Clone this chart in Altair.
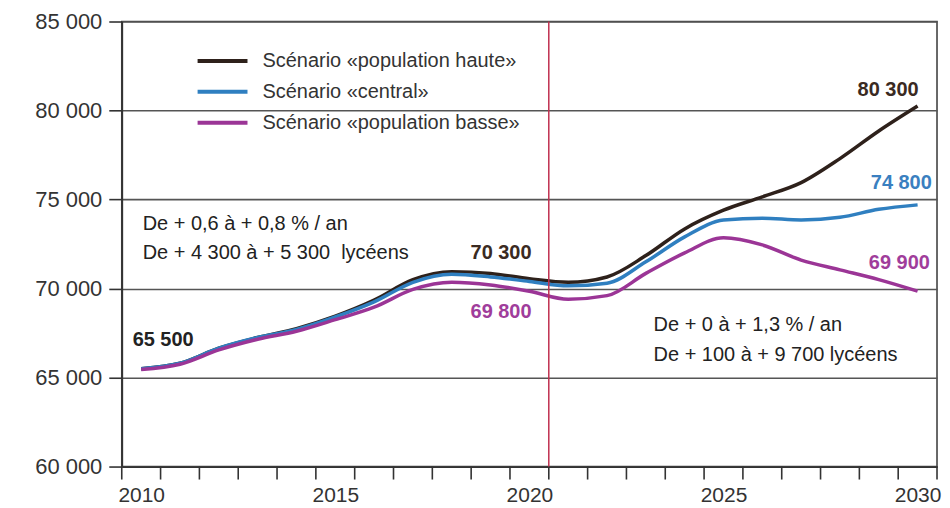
import altair as alt
import pandas as pd

years = list(range(2010, 2031))
haute = [65500, 65800, 66650, 67250, 67750, 68450, 69350, 70500, 70950, 70850, 70550,
         70350, 70650, 71850, 73350, 74400, 75150, 75950, 77300, 78850, 80250]
central = [65500, 65800, 66650, 67250, 67700, 68400, 69250, 70350, 70800, 70650, 70400,
           70150, 70300, 71500, 72900, 73850, 73950, 73850, 74000, 74450, 74700]
basse = [65450, 65750, 66550, 67150, 67600, 68250, 68950, 69950, 70350, 70200, 69850,
         69400, 69600, 70850, 72000, 72850, 72450, 71600, 71050, 70500, 69850]

series_names = ["Scénario «population haute»", "Scénario «central»", "Scénario «population basse»"]
series_colors = ["#2e211b", "#2f7fc0", "#9b3596"]

y_ticks = [60000, 65000, 70000, 75000, 80000, 85000]
x_label_years = [2010, 2015, 2020, 2025, 2030]
x_tick_positions = [2009.5 + i for i in range(22)]
cut_year = [2020.5]

# annotations (text, x in years, y in pupils, colour)
value_labels = ["65 500", "70 300", "69 800", "80 300", "74 800", "69 900"]
value_x = [2009.78, 2019.27, 2019.27, 2029.24, 2029.58, 2029.53]
value_y = [67120, 72000, 68690, 81130, 75920, 71430]
value_colors = ["#222222", "#3a2a22", "#a03d9b", "#3a2a22", "#3a7fc0", "#a03d9b"]
value_align = ["left", "center", "center", "center", "center", "center"]

note_texts = ["De + 0,6 à + 0,8 % / an", "De + 4 300 à + 5 300\u00a0 lycéens",
              "De + 0 à + 1,3 % / an", "De + 100 à + 9 700 lycéens"]
note_x = [2010.04, 2010.04, 2023.2, 2023.2]
note_y = [73620, 72000, 67960, 66280]

rows = []
for name, vals in zip(series_names, [haute, central, basse]):
    for yr, v in zip(years, vals):
        rows.append({"annee": yr, "lyceens": v, "scenario": name})
df = pd.DataFrame(rows)

x_scale = alt.Scale(domain=[2009.5, 2030.5], nice=False, zero=False)
y_scale = alt.Scale(domain=[60000, 85000], nice=False, zero=False)

FONT = "Liberation Sans"
H = 446

lines = alt.Chart(df).mark_line(strokeWidth=3.5, interpolate="monotone").encode(
    x=alt.X("annee:Q", scale=x_scale, title=None,
            axis=alt.Axis(values=x_label_years, grid=False, ticks=False, format="d",
                          labelFlush=False, labelOverlap=False, labelPadding=18,
                          labelFontSize=21)),
    y=alt.Y("lyceens:Q", scale=y_scale, title=None,
            axis=alt.Axis(values=y_ticks, grid=True, gridColor="#555555", gridWidth=1.6,
                          labelExpr="replace(format(datum.value, ','), ',', ' ')",
                          tickSize=13, labelPadding=7)),
    color=alt.Color("scenario:N", sort=series_names,
                    scale=alt.Scale(domain=series_names, range=series_colors),
                    legend=alt.Legend(title=None, orient="none", legendX=74, legendY=24,
                                      symbolType="stroke", symbolSize=2500, symbolStrokeWidth=4,
                                      labelFontSize=20, labelFont=FONT, labelColor="#333333",
                                      labelOffset=13, clipHeight=31, rowPadding=0, padding=0,
                                      labelLimit=400)),
)

ticks_df = pd.DataFrame({"annee": x_tick_positions})
xticks = alt.Chart(ticks_df).mark_rule(color="#333333", strokeWidth=1.6).encode(
    x=alt.X("annee:Q", scale=x_scale, title=None),
    y=alt.value(H), y2=alt.value(H + 13),
)

rule = alt.Chart(pd.DataFrame({"annee": cut_year})).mark_rule(color="#c0304f", strokeWidth=1.5).encode(
    x=alt.X("annee:Q", scale=x_scale, title=None)
)

vals_df = pd.DataFrame({"annee": value_x, "lyceens": value_y, "txt": value_labels,
                        "col": value_colors, "al": value_align})
vals_left = alt.Chart(vals_df[vals_df["al"] == "left"]).mark_text(
    font=FONT, fontSize=20, fontWeight="bold", align="left", baseline="middle").encode(
    x=alt.X("annee:Q", scale=x_scale, title=None),
    y=alt.Y("lyceens:Q", scale=y_scale, title=None),
    text="txt:N", color=alt.Color("col:N", scale=None))
vals_center = alt.Chart(vals_df[vals_df["al"] == "center"]).mark_text(
    font=FONT, fontSize=20, fontWeight="bold", align="center", baseline="middle").encode(
    x=alt.X("annee:Q", scale=x_scale, title=None),
    y=alt.Y("lyceens:Q", scale=y_scale, title=None),
    text="txt:N", color=alt.Color("col:N", scale=None))

notes_df = pd.DataFrame({"annee": note_x, "lyceens": note_y, "txt": note_texts})
notes = alt.Chart(notes_df).mark_text(
    font=FONT, fontSize=20, align="left", baseline="middle", color="#222222").encode(
    x=alt.X("annee:Q", scale=x_scale, title=None),
    y=alt.Y("lyceens:Q", scale=y_scale, title=None),
    text="txt:N")

chart = alt.layer(lines, xticks, rule, vals_left, vals_center, notes).properties(
    width=817, height=H,
    padding={"left": 114, "top": 13, "right": 5, "bottom": 40},
    autosize=alt.AutoSizeParams(type="none"),
    background="white",
).configure_view(stroke="#444444", strokeWidth=1.6).configure_axis(
    labelFont=FONT, labelFontSize=22, labelColor="#333333",
    domainColor="#333333", domainWidth=1.8, tickColor="#333333", tickWidth=1.6,
)

chart.save("out.html", embed_options={"renderer": "svg", "actions": False})
